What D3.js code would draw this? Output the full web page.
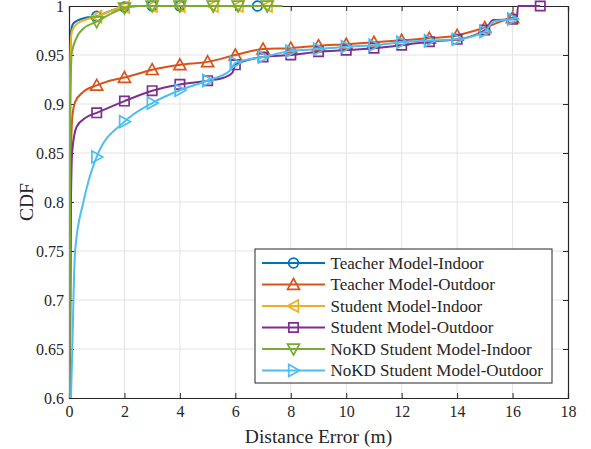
<!DOCTYPE html>
<html>
<head>
<meta charset="utf-8">
<script src="https://cdn.jsdelivr.net/npm/d3@7"></script>
<style>
  body { margin: 0; background: white; }
  text { font-family: "Liberation Serif", "Times New Roman", serif; fill: #262626; }
</style>
</head>
<body>
<script>
// ---- data ----
const xTicks = [0, 2, 4, 6, 8, 10, 12, 14, 16, 18];
const yTicks = [0.6, 0.65, 0.7, 0.75, 0.8, 0.85, 0.9, 0.95, 1];

const teacherIndoor = [[0.02,0.6],[0.04,0.93],[0.08,0.975],[0.15,0.982],[0.3,0.985],[0.6,0.988],[1,0.9895],[1.5,0.995],[2,0.999],[2.5,1],[3,1],[4,1],[6.8,1],[7.0,1]];
const teacherIndoorMarks = [1, 2, 3, 4, 6.8];

const teacherOutdoor = [[0.03,0.6],[0.06,0.83],[0.12,0.887],[0.22,0.902],[0.52,0.9125],[1,0.919],[1.5,0.924],[2,0.927],[3,0.935],[4,0.94],[5,0.943],[6,0.95],[7,0.956],[8,0.957],[9,0.9595],[10,0.961],[11,0.963],[12,0.965],[13,0.967],[14,0.97],[15,0.978],[16,0.988],[16.2,0.989]];
const teacherOutdoorMarks = [1, 2, 3, 4, 5, 6, 7, 8, 9, 10, 11, 12, 13, 14, 15, 16];

const studentIndoor = [[0.02,0.6],[0.04,0.92],[0.08,0.97],[0.15,0.977],[0.3,0.982],[0.6,0.986],[1,0.989],[1.5,0.995],[2,0.999],[2.5,1],[3,1],[4,1],[5.2,1],[6.1,1],[7.15,1]];
const studentIndoorMarks = [1, 2, 3, 4, 5.2, 6.1, 7.15];

const studentOutdoor = [[0.03,0.6],[0.07,0.8],[0.12,0.853],[0.28,0.877],[0.6,0.886],[1,0.891],[2,0.903],[3,0.9136],[4,0.92],[5,0.9238],[5.6,0.927],[5.9,0.932],[6,0.94],[7,0.948],[8,0.95],[9,0.9534],[10,0.955],[11,0.957],[12,0.96],[13,0.9636],[14,0.966],[15,0.9755],[15.3,0.9857],[16,0.9864],[16.15,0.987],[16.2,1],[17,1]];
const studentOutdoorMarks = [1, 2, 3, 4, 5, 6, 7, 8, 9, 10, 11, 12, 13, 14, 15, 16, 17];

const nokdIndoor = [[0.02,0.6],[0.05,0.9],[0.1,0.952],[0.28,0.968],[0.52,0.977],[1,0.984],[1.5,0.992],[2,0.998],[2.5,1],[3,1],[4,1],[5.2,1],[6.1,1],[7.15,1],[7.7,1]];
const nokdIndoorMarks = [1, 2, 3, 4, 5.2, 6.1, 7.15];

const nokdOutdoor = [[0.07,0.6],[0.12,0.65],[0.16,0.7],[0.22,0.75],[0.52,0.8],[0.7,0.821],[1,0.846],[2,0.882],[3,0.901],[4,0.914],[5,0.924],[5.8,0.934],[6,0.942],[7,0.948],[8,0.954],[9,0.956],[10,0.9585],[11,0.96],[12,0.963],[13,0.9646],[14,0.966],[15,0.9738],[15.3,0.984],[16,0.9867],[16.2,0.988]];
const nokdOutdoorMarks = [1, 2, 3, 4, 5, 6, 7, 8, 9, 10, 11, 12, 13, 14, 15, 16];

const series = [
  { name: 'Teacher Model-Indoor', data: teacherIndoor, marks: teacherIndoorMarks, color: '#0072BD', marker: 'circle' },
  { name: 'Teacher Model-Outdoor', data: teacherOutdoor, marks: teacherOutdoorMarks, color: '#D95319', marker: 'up' },
  { name: 'Student Model-Indoor', data: studentIndoor, marks: studentIndoorMarks, color: '#EDB120', marker: 'left' },
  { name: 'Student Model-Outdoor', data: studentOutdoor, marks: studentOutdoorMarks, color: '#7E2F8E', marker: 'square' },
  { name: 'NoKD Student Model-Indoor', data: nokdIndoor, marks: nokdIndoorMarks, color: '#77AC30', marker: 'down' },
  { name: 'NoKD Student Model-Outdoor', data: nokdOutdoor, marks: nokdOutdoorMarks, color: '#4DBEEE', marker: 'right' }
];

const width = 591, height = 449;
const margin = { top: 6, right: 23, bottom: 51, left: 69 };
const innerWidth = width - margin.left - margin.right;
const innerHeight = height - margin.top - margin.bottom;
const axisColor = '#262626';

var svg = d3.select('body').append('svg')
  .attr('width', width)
  .attr('height', height);

var g = svg.append('g')
  .attr('transform', `translate(${margin.left},${margin.top})`);

var x = d3.scaleLinear().domain([0, 18]).range([0, innerWidth]);
var y = d3.scaleLinear().domain([0.6, 1]).range([innerHeight, 0]);

// grid
g.append('g').selectAll('line').data(xTicks.slice(1, -1)).enter().append('line')
  .attr('x1', d => x(d)).attr('x2', d => x(d))
  .attr('y1', 0).attr('y2', innerHeight)
  .attr('stroke', '#e3e3e3').attr('stroke-width', 1);
g.append('g').selectAll('line').data(yTicks.slice(1, -1)).enter().append('line')
  .attr('y1', d => y(d)).attr('y2', d => y(d))
  .attr('x1', 0).attr('x2', innerWidth)
  .attr('stroke', '#e3e3e3').attr('stroke-width', 1);

// axes (ticks inside, on all four sides)
const tickLen = 5;
var fmtY = d => String(+d.toFixed(2));

var xAxis = g.append('g')
  .attr('transform', `translate(0,${innerHeight})`)
  .call(d3.axisBottom(x).tickValues(xTicks).tickSize(-tickLen).tickPadding(8).tickFormat(d3.format('d')));
var yAxis = g.append('g')
  .call(d3.axisLeft(y).tickValues(yTicks).tickSize(-tickLen).tickPadding(5).tickFormat(fmtY));
var xTop = g.append('g')
  .call(d3.axisTop(x).tickValues(xTicks).tickSize(-tickLen));
var yRight = g.append('g')
  .attr('transform', `translate(${innerWidth},0)`)
  .call(d3.axisRight(y).tickValues(yTicks).tickSize(-tickLen));
// mirrored axes carry no labels
xTop.selectAll('.tick text').remove();
yRight.selectAll('.tick text').remove();

[xAxis, yAxis, xTop, yRight].forEach(a => {
  a.select('.domain').attr('stroke', axisColor).attr('stroke-width', 1.2);
  a.selectAll('.tick line').attr('stroke', axisColor).attr('stroke-width', 1);
  a.selectAll('.tick text').attr('fill', axisColor).style('font-size', '16px')
    .style('font-family', '"Liberation Serif", serif');
});

svg.append('text')
  .attr('x', margin.left + innerWidth / 2)
  .attr('y', 443)
  .attr('text-anchor', 'middle')
  .style('font-size', '19.5px')
  .text('Distance Error (m)');

svg.append('text')
  .attr('transform', `translate(33,${margin.top + innerHeight / 2}) rotate(-90)`)
  .attr('text-anchor', 'middle')
  .style('font-size', '19.5px')
  .text('CDF');

// markers
function markerPath(type, s) {
  var r = s / 2;
  switch (type) {
    case 'up': return `M0,${-r}L${r},${r * 0.8}L${-r},${r * 0.8}Z`;
    case 'down': return `M0,${r}L${r},${-r * 0.8}L${-r},${-r * 0.8}Z`;
    case 'left': return `M${-r},0L${r * 0.8},${-r}L${r * 0.8},${r}Z`;
    case 'right': return `M${r},0L${-r * 0.8},${-r}L${-r * 0.8},${r}Z`;
    case 'square': { var q = r * 0.78; return `M${-q},${-q}H${q}V${q}H${-q}Z`; }
    default: return d3.arc()({ innerRadius: 0, outerRadius: r * 0.82, startAngle: 0, endAngle: 2 * Math.PI });
  }
}

g.append('clipPath').attr('id', 'plotClip')
  .append('rect').attr('x', 0).attr('y', -8).attr('width', innerWidth).attr('height', innerHeight + 8);

var line = d3.line()
  .x(d => x(d[0]))
  .y(d => y(d[1]))
  .curve(d3.curveMonotoneX);

var plot = g.append('g').attr('clip-path', 'url(#plotClip)');

series.forEach(s => {
  var sg = plot.append('g');
  sg.append('path')
    .datum(s.data)
    .attr('d', line)
    .attr('fill', 'none')
    .attr('stroke', s.color)
    .attr('stroke-width', 2);
  var pts = s.data.filter(p => s.marks.includes(p[0]));
  sg.selectAll('path.mk').data(pts).enter().append('path')
    .attr('class', 'mk')
    .attr('transform', d => `translate(${x(d[0])},${y(d[1])})`)
    .attr('d', markerPath(s.marker, 12))
    .attr('fill', 'none')
    .attr('stroke', s.color)
    .attr('stroke-width', 1.7);
});

// legend
const legend = { x: 255, y: 249, w: 297, h: 134, row: 21.5 };
var lg = svg.append('g').attr('transform', `translate(${legend.x},${legend.y})`);
lg.append('rect')
  .attr('width', legend.w).attr('height', legend.h)
  .attr('fill', 'white').attr('stroke', axisColor).attr('stroke-width', 1);

var item = lg.selectAll('g.item').data(series).enter().append('g')
  .attr('class', 'item')
  .attr('transform', (d, i) => `translate(0,${14 + i * legend.row})`);
item.append('line')
  .attr('x1', 7).attr('x2', 70)
  .attr('stroke', d => d.color).attr('stroke-width', 2);
item.append('path')
  .attr('transform', 'translate(38.5,0)')
  .attr('d', d => markerPath(d.marker, 12))
  .attr('fill', 'none')
  .attr('stroke', d => d.color).attr('stroke-width', 1.7);
item.append('text')
  .attr('x', 75.5)
  .attr('dy', '0.33em')
  .style('font-size', '17px')
  .text(d => d.name);
</script>
</body>
</html>
